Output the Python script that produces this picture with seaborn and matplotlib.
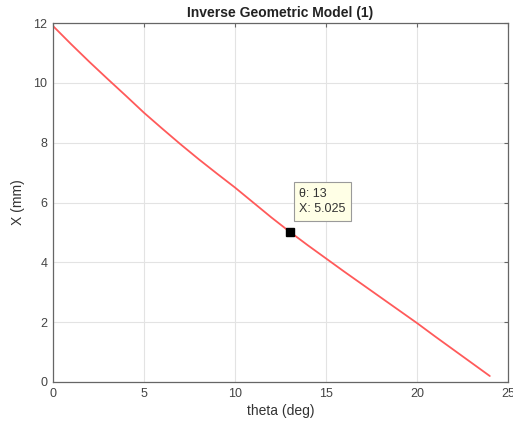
import matplotlib
matplotlib.use("Agg")
import matplotlib.pyplot as plt
import seaborn as sns
import pandas as pd

theta_deg = [0, 1, 2, 3, 4, 5, 6, 7, 8, 9, 10, 11, 12, 13, 14, 15, 16, 17, 18, 19, 20, 21, 22, 23, 24]
x_mm = [11.9, 11.29, 10.7, 10.13, 9.57, 9.0, 8.47, 7.95, 7.45, 6.97, 6.5, 6.0, 5.5, 5.025, 4.57, 4.13, 3.69, 3.26, 2.83, 2.4, 1.97, 1.52, 1.08, 0.64, 0.2]
tip_theta = 13
tip_x = 5.025
x_ticks = [0, 5, 10, 15, 20, 25]
y_ticks = [0, 2, 4, 6, 8, 10, 12]

sns.set_theme(style="white")
plt.rcParams['font.family'] = ['Liberation Sans', 'DejaVu Sans']

fig = plt.figure(figsize=(5.13, 4.34), dpi=100)
ax = fig.add_axes([53/513, 1 - 382/434, (508 - 53)/513, (382 - 23)/434])

df = pd.DataFrame({"theta": theta_deg, "X": x_mm})
sns.lineplot(data=df, x="theta", y="X", ax=ax, color="#ff5a5a", linewidth=1.3)

ax.plot([tip_theta], [tip_x], marker="s", color="black", markersize=6, linestyle="none")
ax.annotate(f"θ: {tip_theta}\nX: {tip_x}", xy=(tip_theta, tip_x), xytext=(7, 12),
            textcoords="offset points", fontsize=9, color="#333333", va="bottom", ha="left",
            linespacing=1.35,
            bbox=dict(boxstyle="square,pad=0.45", facecolor="#ffffe6", edgecolor="#9a9a9a", linewidth=0.8))

ax.set_xlim(0, 25)
ax.set_ylim(0, 12)
ax.set_xticks(x_ticks)
ax.set_yticks(y_ticks)
ax.grid(True, color="#e3e3e3", linewidth=0.8)
ax.set_axisbelow(True)
for s in ax.spines.values():
    s.set_color("#666666")
    s.set_linewidth(0.9)
ax.tick_params(direction="in", length=3, width=0.8, color="#666666", labelsize=9,
               labelcolor="#444444", top=True, right=True, pad=4)
ax.set_xlabel("theta (deg)", fontsize=10, color="#333333", labelpad=3)
ax.set_ylabel("X (mm)", fontsize=10, color="#333333", labelpad=6)
ax.set_title("Inverse Geometric Model (1)", fontsize=10, fontweight="bold", color="#222222", pad=4)

fig.savefig("out.png", dpi=100)
